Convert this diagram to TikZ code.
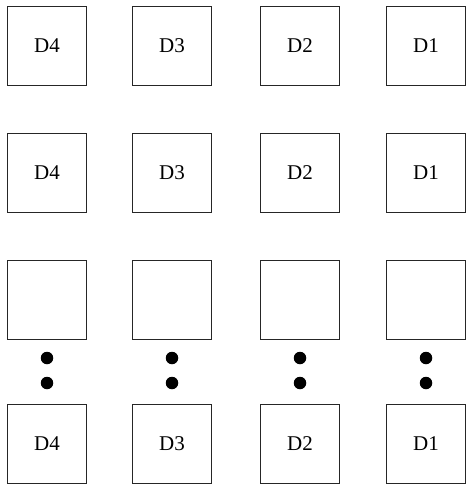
\documentclass[tikz,border=0pt]{standalone}
\usepackage{fontspec}
\setmainfont{Liberation Serif}
\usepackage{tikz}

\begin{document}
\begin{tikzpicture}[x=1pt,y=-1pt,
    cell/.style={draw=black!85, line width=1pt, minimum size=79pt, inner sep=0pt,
                 font=\fontsize{21}{24}\selectfont},
    dot/.style={circle, fill=black, inner sep=0pt, minimum size=12.5pt}]
    \useasboundingbox (0,0) rectangle (466,488);
    % four columns of cells, D4 on the left down to D1 on the right
    \foreach \c/\x/\lab in {1/47/D4, 2/172/D3, 3/300/D2, 4/426/D1} {
        \node[cell] (a\c) at (\x,46) {\lab};
        \node[cell] (b\c) at (\x,173) {\lab};
        \node[cell] (c\c) at (\x,300) {};
        \node[cell] (d\c) at (\x,444) {\lab};
        % dots between the third and the last row
        \node[dot] (u\c) at (\x,358) {};
        \node[dot] (v\c) at (\x,383) {};
    }
\end{tikzpicture}
\end{document}
